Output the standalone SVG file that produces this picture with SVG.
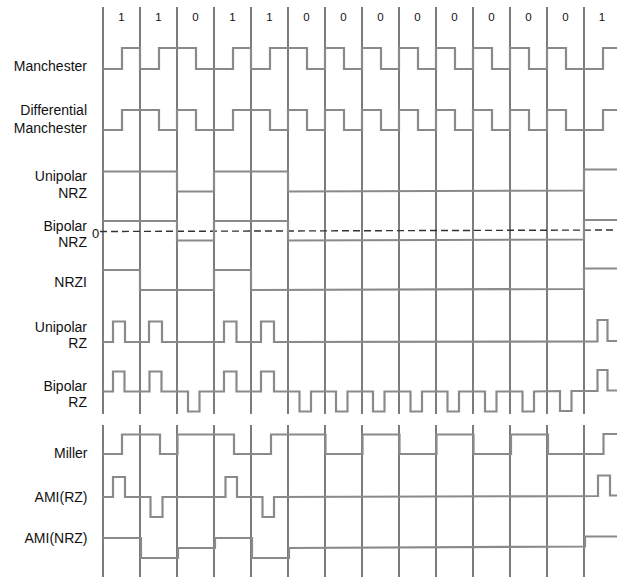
<svg xmlns="http://www.w3.org/2000/svg" width="617" height="579" viewBox="0 0 617 579">
<style>
text{font-family:"Liberation Sans",Arial,sans-serif;fill:#111}
.lab{font-size:14px;text-anchor:end}
.bit{font-size:11.5px;text-anchor:middle}
.grid{stroke:#454545;stroke-width:1.4;fill:none}
.wave{stroke:#8a8a8a;stroke-width:2.2;fill:none;stroke-linejoin:miter}
.zero{stroke:#333;stroke-width:1.4;stroke-dasharray:7 4;fill:none}
</style>
<rect width="617" height="579" fill="#fff"/>
<g id="grid">
<path class="grid" d="M103 7V414M140 7V414M177 7V414M214 7V414M251 7V414M288 7V414M325 7V414M362 7V414M399 7V414M436 7V414M473 7V414M510 7V414M547 7V414M584 7V414"/>
<path class="grid" d="M103 425V577M140 425V577M177 425V577M214 425V577M251 425V577M288 425V577M325 425V577M362 425V577M399 425V577M436 425V577M473 425V577M510 425V577M547 425V577M584 425V577"/>
</g>
<g id="bits">
<text class="bit" x="121.5" y="21">1</text>
<text class="bit" x="158.5" y="21">1</text>
<text class="bit" x="195.5" y="21">0</text>
<text class="bit" x="232.5" y="21">1</text>
<text class="bit" x="269.5" y="21">1</text>
<text class="bit" x="306.5" y="21">0</text>
<text class="bit" x="343.5" y="21">0</text>
<text class="bit" x="380.5" y="21">0</text>
<text class="bit" x="417.5" y="21">0</text>
<text class="bit" x="454.5" y="21">0</text>
<text class="bit" x="491.5" y="21">0</text>
<text class="bit" x="528.5" y="21">0</text>
<text class="bit" x="565.5" y="21">0</text>
<text class="bit" x="602" y="21">1</text>
</g>
<g id="manchester">
<text class="lab" x="87" y="71">Manchester</text>
<polyline class="wave" points="103,69 122,69 122,48 140,48 140,69 159,69 159,48 196,48 196,69 233,69 233,48 251,48 251,69 270,69 270,48 307,48 307,69 325,69 325,48 344,48 344,69 362,69 362,48 381,48 381,69 399,69 399,48 418,48 418,69 436,69 436,48 455,48 455,69 473,69 473,48 492,48 492,69 510,69 510,48 529,48 529,69 547,69 547,48 566,48 566,69 603,69 603,48 617,48"/>
</g>
<g id="diff-manchester">
<text class="lab" x="87" y="115">Differential</text>
<text class="lab" x="87" y="133">Manchester</text>
<polyline class="wave" points="103,130 122,130 122,110 159,110 159,130 177,130 177,110 196,110 196,130 233,130 233,110 270,110 270,130 288,130 288,110 307,110 307,130 325,130 325,110 344,110 344,130 362,130 362,110 381,110 381,130 399,130 399,110 418,110 418,130 436,130 436,110 455,110 455,130 473,130 473,110 492,110 492,130 510,130 510,110 529,110 529,130 547,130 547,110 566,110 566,130 603,130 603,110 617,110"/>
</g>
<g id="unipolar-nrz">
<text class="lab" x="87" y="181">Unipolar</text>
<text class="lab" x="87" y="197.5">NRZ</text>
<polyline class="wave" points="103,171.5 177,171.5 177,191.5 214,191.5 214,171.5 288,171.5 288,191.5 584,190.5 584,169.5 617,169.5"/>
</g>
<g id="bipolar-nrz">
<text class="lab" x="87" y="230.5">Bipolar</text>
<text class="lab" x="87" y="246.5">NRZ</text>
<text x="95.5" y="238" style="font-size:13px;text-anchor:middle">0</text>
<line class="zero" x1="100" y1="231.5" x2="617" y2="230"/>
<polyline class="wave" points="103,221 177,221 177,240.5 214,240.5 214,221 288,221 288,240.5 584,239.5 584,220 617,220"/>
</g>
<g id="nrzi">
<text class="lab" x="87" y="286.5">NRZI</text>
<polyline class="wave" points="103,270 140,270 140,290 214,290 214,270 251,270 251,290 584,289 584,268.5 617,268.5"/>
</g>
<g id="unipolar-rz">
<text class="lab" x="87" y="331.5">Unipolar</text>
<text class="lab" x="87" y="347.5">RZ</text>
<polyline class="wave" points="103,342 113,342 113,321.5 125,321.5 125,342 149,342 149,321.5 162,321.5 162,342 224,342 224,321.5 236.5,321.5 236.5,342 261,342 261,321.5 274,321.5 274,342 597.5,341.5 597.5,320 607.5,320 607.5,341 617,341"/>
</g>
<g id="bipolar-rz">
<text class="lab" x="87" y="390.5">Bipolar</text>
<text class="lab" x="87" y="407">RZ</text>
<polyline class="wave" points="103,391.5 113,391.5 113,371.5 124.5,371.5 124.5,391.5 149.5,391.5 149.5,371.5 161.5,371.5 161.5,391.5 188,391.5 188,411.5 199.5,411.5 199.5,391.5 224,391.5 224,371.5 236.5,371.5 236.5,391.5 261,391.5 261,371.5 274,371.5 274,391.5 299.5,391.5 299.5,411.5 311,411.5 311,391.5 336,391.5 336,411.5 347.5,411.5 347.5,391.5 373,391.5 373,411.5 384.5,411.5 384.5,391.5 410.5,391.5 410.5,411.5 422,411.5 422,391.5 447.5,391.5 447.5,411.5 459,411.5 459,391.5 485,391.5 485,411.5 496.5,411.5 496.5,391.5 522.5,391.5 522.5,411.5 534,411.5 534,391.5 560,391 560,411 571.5,411 571.5,391 597.5,391 597.5,370 607.5,370 607.5,390.5 617,390.5"/>
</g>
<g id="miller">
<text class="lab" x="87.5" y="457.5">Miller</text>
<polyline class="wave" points="103,454 122,454 122,434.5 160,434.5 160,454 177.5,454 177.5,434.5 234,434.5 234,454 271,454 271,434.5 325.5,434.5 325.5,454 362.5,454 362.5,434.5 399.5,434.5 399.5,454 436.5,454 436.5,434.5 473.5,434.5 473.5,454 511,454 511,434.5 548,434.5 548,454 603.5,454 603.5,434 617,434"/>
</g>
<g id="ami-rz">
<text class="lab" x="87.5" y="501.5">AMI(RZ)</text>
<polyline class="wave" points="103,497 113,497 113,477 125,477 125,497 150.5,497 150.5,517 162.5,517 162.5,497 225.5,497 225.5,477 237,477 237,497 262.5,497 262.5,517 274,517 274,497 598,496 598,475.5 610,475.5 610,495.5 617,495.5"/>
</g>
<g id="ami-nrz">
<text class="lab" x="87.5" y="542.5">AMI(NRZ)</text>
<polyline class="wave" points="103,538 141,538 141,558 178,558 178,548 215,548 215,538 252,538 252,558 289,558 289,548 585,546.5 585,536.5 617,536.5"/>
</g>
</svg>
